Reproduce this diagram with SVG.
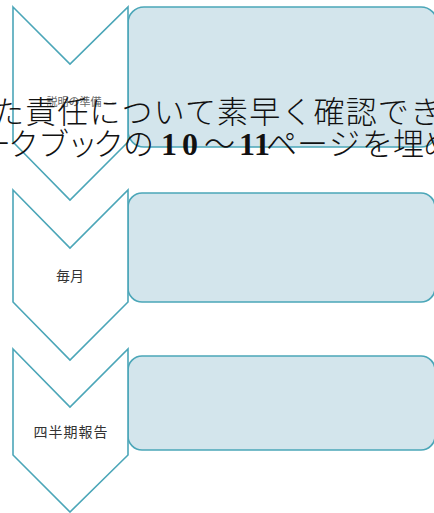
<svg xmlns="http://www.w3.org/2000/svg" width="434" height="513" viewBox="0 0 434 513">
<style>
.box{fill:#D3E5EC;stroke:#4BA6B8;stroke-width:1.6}
.chev{fill:#FFFFFF;stroke:#4BA6B8;stroke-width:1.6;stroke-linejoin:miter}
.lbl{font-family:"Noto Sans CJK JP","Noto Sans",sans-serif;fill:#333;text-anchor:middle}
.big{font-family:"Noto Sans CJK JP",serif;font-size:31px;fill:#111;font-weight:300}
.num{font-family:"Liberation Serif",serif;font-weight:bold;font-size:32px}
</style>
<rect width="434" height="513" fill="#FFFFFF"/>
<g id="step1">
<rect class="box" x="128" y="7" width="309" height="140" rx="16"/>
<polygon class="chev" points="13,7 70,64 128,7 128,142 70,200 13,142"/>
<text class="lbl" x="74" y="106" font-size="11" style="fill:#666">説明の準備</text>
</g>
<g id="step2">
<rect class="box" x="128" y="193" width="307" height="109" rx="14"/>
<polygon class="chev" points="13,190 70,248 128,190 128,302 70,360 13,302"/>
<text class="lbl" x="70" y="281" font-size="14">毎月</text>
</g>
<g id="step3">
<rect class="box" x="128" y="356" width="307" height="94" rx="14"/>
<polygon class="chev" points="13,349 70,407 128,349 128,455 70,512 13,455"/>
<text class="lbl" x="71" y="437" font-size="14" letter-spacing="1">四半期報告</text>
</g>
<g id="connectors"/>
<g id="overlay">
<text class="big" x="-7" y="123" textLength="448" lengthAdjust="spacing">た責任について素早く確認でき</text>
<text class="big" y="155"><tspan x="-20">ー</tspan><tspan x="8">ク</tspan><tspan x="38">ブ</tspan><tspan x="67">ッ</tspan><tspan x="93">ク</tspan><tspan x="123">の</tspan><tspan class="num" x="161">1</tspan><tspan class="num" x="182">0</tspan><tspan x="204">〜</tspan><tspan class="num" x="239">1</tspan><tspan class="num" x="254">1</tspan><tspan x="266">ペ</tspan><tspan x="297">ー</tspan><tspan x="329">ジ</tspan><tspan x="362">を</tspan><tspan x="393">埋</tspan><tspan x="423">め</tspan></text>
</g>
</svg>
